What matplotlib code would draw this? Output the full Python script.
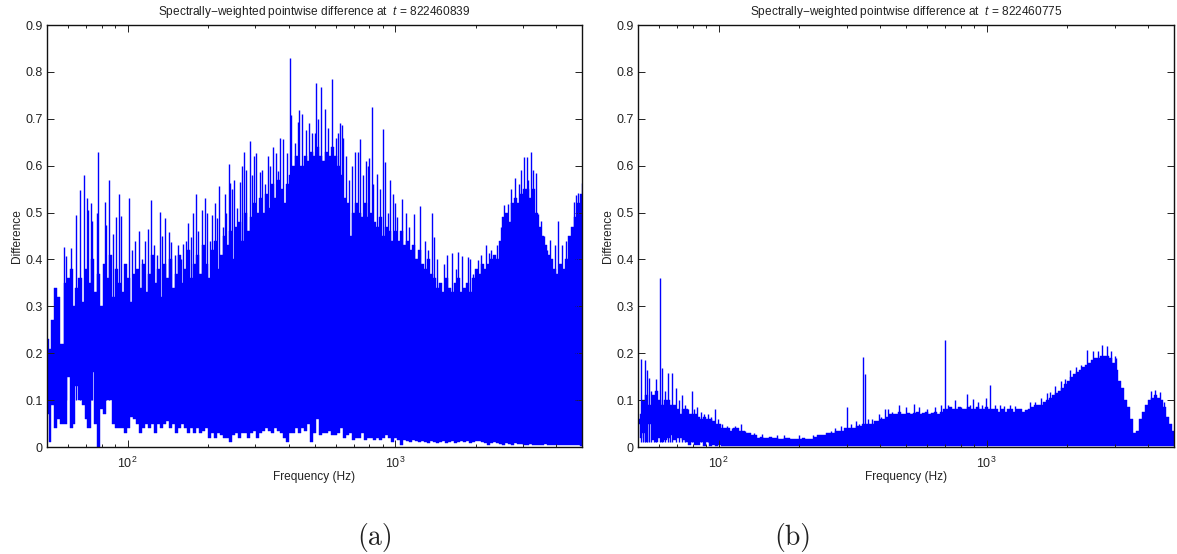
import matplotlib
matplotlib.use('Agg')
import matplotlib.pyplot as plt
from matplotlib.ticker import FixedLocator, LogLocator, NullFormatter, LogFormatterMathtext

plt.rcParams['font.family'] = ['Liberation Sans', 'DejaVu Sans']
plt.rcParams['mathtext.fontset'] = 'custom'
plt.rcParams['mathtext.rm'] = 'Liberation Sans'
plt.rcParams['mathtext.it'] = 'Liberation Sans:italic'
plt.rcParams['axes.unicode_minus'] = True

# frequency samples read along the x axis (Hz)
freq_hz = [
    50.0, 51.3, 52.6, 54.0, 55.4, 56.9, 58.4, 59.9, 61.5, 63.1,
    64.7, 66.4, 68.2, 69.9, 71.8, 73.7, 75.6, 77.6, 79.6, 81.7,
    83.8, 86.0, 88.3, 90.6, 92.9, 95.4, 97.9, 100.4, 103.1, 105.8,
    108.5, 111.4, 114.3, 117.3, 120.3, 123.5, 126.7, 130.0, 133.4, 136.9,
    140.5, 144.2, 148.0, 151.8, 155.8, 159.9, 164.1, 168.4, 172.8, 177.3,
    181.9, 186.7, 191.6, 196.6, 201.8, 207.0, 212.5, 218.0, 223.7, 229.6,
    235.6, 241.8, 248.1, 254.6, 261.3, 268.1, 275.1, 282.3, 289.7, 297.3,
    305.1, 313.1, 321.3, 329.7, 338.3, 347.2, 356.3, 365.6, 375.2, 385.0,
    395.1, 405.5, 416.1, 427.0, 438.2, 449.7, 461.4, 473.5, 485.9, 498.7,
    511.7, 525.1, 538.9, 553.0, 567.5, 582.4, 597.6, 613.3, 629.3, 645.8,
    662.7, 680.1, 697.9, 716.2, 735.0, 754.2, 774.0, 794.3, 815.1, 836.4,
    858.3, 880.8, 903.9, 927.6, 951.9, 976.8, 1002, 1029, 1056, 1083,
    1112, 1141, 1171, 1201, 1233, 1265, 1298, 1332, 1367, 1403,
    1440, 1477, 1516, 1556, 1596, 1638, 1681, 1725, 1770, 1817,
    1864, 1913, 1963, 2015, 2068, 2122, 2177, 2234, 2293, 2353,
    2415, 2478, 2543, 2610, 2678, 2748, 2820, 2894, 2970, 3048,
    3128, 3210, 3294, 3380, 3469, 3560, 3653, 3749, 3847, 3948,
    4051, 4157, 4266, 4378, 4493, 4611, 4731, 4855, 5000,
]

# panel (a) envelope
upper_a = [
    .23, .21, .27, .34, .32, .22, .35, .36, .38, .30,
    .34, .36, .31, .38, .35, .40, .33, .37, .30, .39,
    .36, .41, .32, .38, .35, .33, .39, .36, .31, .37,
    .38, .34, .39, .33, .37, .41, .35, .38, .32, .39,
    .36, .40, .34, .37, .41, .35, .38, .42, .36, .39,
    .41, .37, .43, .39, .36, .42, .44, .38, .41, .45,
    .43, .46, .40, .47, .48, .44, .50, .46, .49, .52,
    .50, .53, .50, .54, .51, .56, .53, .57, .55, .52,
    .56, .58, .60, .62, .60, .60, .62, .61, .63, .62,
    .64, .62, .61, .63, .62, .64, .62, .60, .58, .53,
    .52, .45, .50, .52, .50, .49, .52, .49, .50, .48,
    .47, .49, .45, .47, .46, .44, .46, .44, .46, .43,
    .44, .42, .43, .40, .42, .39, .38, .40, .37, .36,
    .34, .35, .33, .36, .34, .33, .35, .36, .33, .34,
    .35, .33, .36, .38, .37, .39, .38, .39, .40, .41,
    .40, .44, .49, .50, .48, .52, .53, .52, .54, .55,
    .55, .53, .55, .50, .47, .45, .43, .41, .40, .38,
    .37, .39, .38, .40, .45, .47, .49, .52, .54,
]
lower_a = [
    .07, .01, .09, .04, .06, .05, .05, .15, .04, .05,
    .13, .10, .09, .06, .04, .16, .05, .00, .08, .07,
    .10, .10, .05, .04, .04, .04, .03, .04, .065, .06,
    .05, .03, .04, .05, .04, .05, .03, .05, .04, .05,
    .055, .04, .05, .03, .04, .05, .04, .03, .04, .03,
    .04, .03, .035, .04, .02, .03, .02, .03, .025, .02,
    .02, .01, .025, .03, .02, .03, .03, .02, .03, .035,
    .02, .03, .035, .04, .035, .03, .04, .035, .03, .02,
    .01, .03, .03, .04, .03, .04, .035, .05, .01, .03,
    .06, .025, .03, .03, .035, .025, .025, .03, .04, .02,
    .025, .03, .015, .02, .02, .03, .015, .02, .02, .015,
    .02, .015, .02, .025, .02, .01, .02, .015, .005, .015,
    .012, .01, .015, .012, .01, .012, .01, .008, .012, .01,
    .008, .01, .012, .008, .01, .012, .008, .01, .012, .01,
    .012, .008, .01, .012, .012, .01, .008, .005, .008, .01,
    .008, .006, .005, .008, .006, .005, .008, .006, .006, .005,
    .005, .006, .005, .005, .004, .005, .006, .004, .005, .004,
    .005, .004, .005, .004, .005, .005, .004, .004, .003,
]
spike_f_a = [
    57.9, 59.0, 61.3, 64.0, 66.2, 68.7, 70.7, 71.3, 73.0, 73.8, 76.6, 77.3,
    82.1, 83.3, 84.9, 88.4, 90.7, 92.6, 94.7, 100.9, 106.8, 119, 122.9,
    132.8, 138.6, 142.6, 146, 161.3, 168, 172.8, 180.9, 189.4, 194.4, 207,
    216, 220, 226.8, 238.8, 240.9, 256.6, 264, 272, 278, 287, 302, 312.6,
    327, 359, 365, 381, 394, 405.7, 410, 422, 432, 438,
    466, 490, 506, 528, 580, 611, 636, 641, 709, 730, 740, 777, 802, 818,
    854, 900, 918, 958, 980, 1059, 1177, 1240, 1378, 1402, 1632, 1719,
    1774, 1867, 2046, 2179, 2242, 2551, 2648, 2702, 2804, 3038, 3108, 3217,
    3358, 3436, 3506, 3809, 4080, 4472, 4655, 4736, 4832, 4986,
    104, 110, 113, 116, 126, 129, 135, 150, 155, 158, 165, 176, 184, 199,
    203, 212, 231, 234, 246, 251, 268, 292, 296, 318, 334, 342, 350, 372,
    450, 478, 500, 515, 545, 560, 600, 625, 655, 675, 690, 760, 790, 830,
    875, 940, 1000, 1020, 1100, 1130, 1290, 1330, 1440, 1520, 1560, 1690,
    1900, 1950, 2100, 2290, 2400, 2480, 2900, 2950, 3150, 3290, 3600, 3700,
    3950, 4200, 4350,
]
spike_v_a = [
    .427, .408, .425, .494, .548, .58, .53, .505, .52, .483, .50, .63,
    .523, .473, .57, .455, .49, .54, .493, .53, .44, .465, .527,
    .502, .489, .459, .438, .432, .478, .448, .54, .506, .53, .494,
    .489, .557, .47, .604, .562, .51, .565, .629, .591, .652, .626, .587,
    .56, .627, .589, .657, .627, .83, .708, .648, .694, .719,
    .676, .67, .776, .768, .784, .67, .687, .66, .63, .63, .657, .61, .616, .726,
    .582, .678, .607, .57, .54, .528, .496, .515, .50, .448, .414, .416,
    .407, .406, .398, .43, .414, .517, .519, .55, .574, .618, .618, .629,
    .585, .496, .482, .442, .483, .446, .523, .538, .542, .562,
    .42, .46, .40, .44, .43, .41, .45, .41, .43, .40, .44, .50, .46, .50,
    .44, .52, .54, .50, .55, .57, .60, .58, .62, .59, .62, .60, .64, .66,
    .71, .69, .67, .70, .72, .68, .66, .69, .62, .57, .60, .58, .60, .56,
    .55, .50, .52, .49, .50, .47, .44, .42, .40, .39, .41, .38,
    .40, .37, .41, .42, .43, .47, .56, .59, .57, .59, .45, .42,
    .43, .43, .44,
]

# panel (b) envelope
upper_b = [
    .05, .07, .10, .11, .09, .11, .12, .10, .09, .10,
    .10, .09, .09, .08, .07, .08, .08, .07, .07, .07,
    .065, .06, .065, .06, .06, .055, .05, .05, .04, .04,
    .04, .035, .04, .04, .035, .035, .03, .03, .025, .025,
    .02, .022, .02, .02, .022, .02, .02, .018, .018, .02,
    .02, .018, .018, .018, .018, .02, .018, .018, .018, .022,
    .025, .025, .025, .03, .03, .03, .035, .035, .035, .04,
    .04, .04, .04, .045, .045, .05, .05, .05, .05, .055,
    .055, .06, .06, .065, .07, .07, .07, .075, .07, .07,
    .072, .07, .072, .075, .07, .072, .075, .07, .072, .075,
    .07, .075, .08, .08, .085, .08, .08, .085, .08, .08,
    .085, .08, .08, .085, .08, .08, .085, .08, .08, .08,
    .075, .08, .075, .08, .08, .075, .08, .08, .075, .078,
    .08, .085, .09, .09, .09, .095, .10, .105, .11, .115,
    .12, .125, .135, .14, .15, .155, .16, .165, .17, .175,
    .18, .185, .19, .19, .195, .195, .195, .19, .18, .165,
    .14, .125, .10, .085, .06, .03, .035, .06, .075, .09,
    .10, .105, .11, .105, .10, .085, .065, .05, .035,
]
lower_b = [
    .06, .02, .03, .01, .05, .015, .01, .02, .01, .015,
    .02, .025, .015, .02, .02, .015, .01, .005, .01, .005,
    .005, .01, .003, .01, .003, .005, .002, .005, .002, .003,
    .002, .002, .002, .002, .002, .002, .002, .002, .002, .002,
    .002, .002, .002, .002, .002, .002, .002, .002, .002, .002,
    .002, .002, .002, .002, .002, .002, .002, .002, .002, .002,
    .002, .002, .002, .002, .002, .002, .002, .002, .002, .002,
    .002, .002, .002, .002, .002, .002, .002, .002, .002, .002,
    .002, .002, .002, .002, .002, .002, .002, .002, .002, .002,
    .002, .002, .002, .002, .002, .002, .002, .002, .002, .002,
    .002, .002, .002, .002, .002, .002, .002, .002, .002, .002,
    .002, .002, .002, .002, .002, .002, .002, .002, .002, .002,
    .002, .002, .002, .002, .002, .002, .002, .002, .002, .002,
    .002, .002, .002, .002, .002, .002, .002, .002, .002, .002,
    .002, .002, .002, .002, .002, .002, .002, .002, .002, .002,
    .002, .002, .002, .002, .002, .002, .002, .002, .002, .002,
    .002, .002, .002, .002, .002, .002, .002, .002, .002, .002,
    .002, .002, .002, .002, .002, .002, .002, .002, .002,
]
spike_f_b = [
    51.4, 53, 53.9, 54.9, 58.6, 60.4, 61.5, 64.6, 67.2, 69.5, 79.3, 83.3,
    96.6, 120.8, 301.4, 346.8, 350.8, 418.8, 472, 534, 696.6, 763, 843,
    888, 995, 1033, 2374, 2499, 2700, 2803,
    52, 56, 57.5, 63, 66, 71, 73, 75, 77, 81, 86, 88, 91, 94, 99, 103, 107,
    112, 115, 125, 135, 145, 165, 175, 200, 225, 262, 272, 285, 312, 325,
    335, 362, 372, 395, 405, 430, 445, 500, 560, 600, 640, 675, 720, 800,
    870, 930, 960, 1075, 1120, 1160, 1220, 1280, 1450, 1520, 1600, 1680,
    1720, 1800, 1900, 1960, 2050, 2150, 2250, 2600, 2900, 3000, 3050, 4250,
    4100, 4450, 4600,
]
spike_v_b = [
    .187, .185, .165, .147, .145, .36, .168, .158, .158, .126, .12, .085,
    .082, .05, .085, .193, .155, .08, .089, .092, .229, .101, .112,
    .103, .105, .133, .206, .204, .218, .215,
    .09, .12, .11, .12, .09, .10, .11, .09, .08, .08, .075, .07, .07, .065,
    .06, .05, .045, .04, .045, .035, .03, .028, .025, .026, .025, .025,
    .035, .04, .045, .05, .055, .05, .06, .06, .07, .065, .08, .075, .085,
    .085, .08, .085, .09, .09, .085, .09, .095, .09, .09, .09, .088, .09,
    .088, .095, .095, .105, .115, .118, .13, .14, .145, .165, .17, .175,
    .205, .205, .195, .19, .122, .12, .118, .095,
]

titles = [
    'Spectrally\u2212weighted pointwise difference at  $\\mathit{t}$ = 822460839',
    'Spectrally\u2212weighted pointwise difference at  $\\mathit{t}$ = 822460775',
]
captions = ['(a)', '(b)']
y_ticks = [0, 0.1, 0.2, 0.3, 0.4, 0.5, 0.6, 0.7, 0.8, 0.9]
y_labels = ['0', '0.1', '0.2', '0.3', '0.4', '0.5', '0.6', '0.7', '0.8', '0.9']

W, H = 1177, 554
fig = plt.figure(figsize=(W / 100, H / 100), dpi=100)
boxes = [(47, 582), (638, 1174)]
caption_x = [375, 793]
series = [
    (upper_a, lower_a, spike_f_a, spike_v_a, 0.1),
    (upper_b, lower_b, spike_f_b, spike_v_b, 0.01),
]

for i in range(2):
    x0, x1 = boxes[i]
    ax = fig.add_axes([x0 / W, (H - 447) / H, (x1 - x0) / W, 422 / H])
    up, lo, sf, sv, base = series[i]
    ax.fill_between(freq_hz, lo, up, step='mid', color='#0000ff', linewidth=0.3)
    ax.vlines(sf, base, sv, color='#0000ff', linewidth=1.0)

    ax.set_xscale('log')
    ax.set_xlim(50, 5000)
    ax.set_ylim(0, 0.9)
    ax.xaxis.set_major_locator(LogLocator(base=10, numticks=5))
    ax.xaxis.set_major_formatter(LogFormatterMathtext())
    ax.xaxis.set_minor_locator(LogLocator(base=10, subs=range(2, 10), numticks=5))
    ax.xaxis.set_minor_formatter(NullFormatter())
    ax.yaxis.set_major_locator(FixedLocator(y_ticks))
    ax.set_yticklabels(y_labels)

    ax.tick_params(which='major', direction='in', top=True, right=True, length=5, width=0.7,
                   labelsize=9, pad=3, colors='#222222')
    ax.tick_params(axis='x', which='major', pad=6)
    ax.tick_params(which='minor', direction='in', top=True, right=False, length=2.5, width=0.7,
                   colors='#222222')
    for s in ax.spines.values():
        s.set_linewidth(1.0)
        s.set_color('#111111')

    ax.set_title(titles[i], fontsize=8.6, pad=7, color='#222222')
    ax.set_xlabel('Frequency (Hz)', fontsize=8.6, labelpad=0, color='#222222')
    ax.set_ylabel('Difference', fontsize=8.6, labelpad=2, color='#222222')

    fig.text(caption_x[i] / W, (H - 537) / H, captions[i], family='cmr10', fontsize=20,
             ha='center', va='center', color='#222222')

fig.savefig('out.png', dpi=100)
